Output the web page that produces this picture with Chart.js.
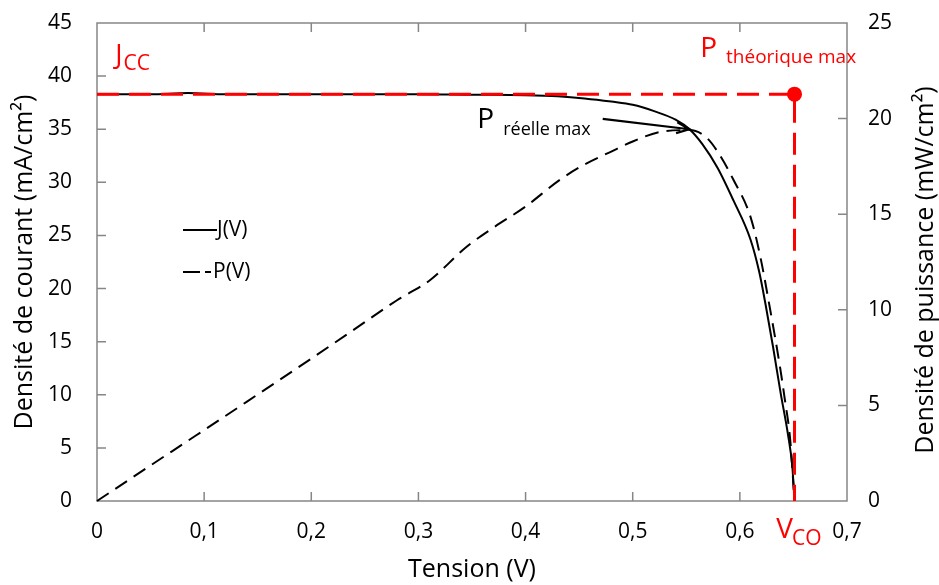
<!DOCTYPE html>
<html lang="fr">
<head>
<meta charset="UTF-8">
<title>J(V) et P(V)</title>
<script src="https://cdn.jsdelivr.net/npm/chart.js"></script>
<style>
  html, body { margin: 0; padding: 0; background: #fff; }
  #wrap { width: 939px; height: 585px; }
</style>
</head>
<body>
<div id="wrap"><canvas id="chart" width="939" height="585"></canvas></div>
<script>
// courbe J(V) (mA/cm2)
const voltsJ = [0, 0.05, 0.085, 0.12, 0.2, 0.3, 0.35, 0.4, 0.43, 0.455, 0.48, 0.5, 0.52, 0.54, 0.553, 0.565, 0.579, 0.594, 0.61, 0.618, 0.624, 0.631, 0.638, 0.645, 0.649, 0.651];
const currentJ = [38.3, 38.3, 38.4, 38.3, 38.3, 38.3, 38.25, 38.2, 38.1, 37.9, 37.6, 37.3, 36.7, 35.9, 35.0, 33.6, 31.4, 28.3, 24.6, 21.6, 18.5, 14.5, 10.2, 6.2, 3.2, 0];

// courbe P(V) (mW/cm2)
const voltsP = [0, 0.047, 0.093, 0.14, 0.187, 0.233, 0.28, 0.311, 0.345, 0.37, 0.4, 0.432, 0.455, 0.479, 0.5, 0.525, 0.553, 0.569, 0.58, 0.594, 0.61, 0.619, 0.628, 0.6375, 0.642, 0.647, 0.651];
const powerP = [0, 1.75, 3.45, 5.2, 6.96, 8.7, 10.5, 11.56, 13.3, 14.3, 15.4, 16.8, 17.6, 18.25, 18.8, 19.3, 19.4, 19.0, 18.2, 16.8, 14.85, 12.8, 10.1, 7.0, 5.3, 3.2, 0];

// points remarquables
const jcc = 38.3;
const vco = 0.651;
const pmaxReel = [0.553, 35.0];
const arrowFrom = [0.472, 35.97];

const FONT = "'Open Sans', sans-serif";

function pts(xs, ys) {
    return xs.map((x, i) => ({ x: x, y: ys[i] }));
}

function fmt(v) {
    const n = Number(v.toFixed(1));
    return n.toString().replace(".", ",");
}

// grille invisible : seulement pour décaler les étiquettes
function hiddenGrid(len) {
    return { display: true, drawOnChartArea: false, drawTicks: true, tickLength: len, color: "rgba(0,0,0,0)" };
}

const framePlugin = {
    id: "frame",
    beforeDatasetsDraw(chart) {
        const { ctx, chartArea: a, scales } = chart;
        ctx.save();
        ctx.strokeStyle = "#868686";
        ctx.lineWidth = 1.5;
        ctx.strokeRect(a.left, a.top, a.right - a.left, a.bottom - a.top);
        const tl = 9;
        ctx.beginPath();
        scales.x.ticks.forEach(t => {
            const px = scales.x.getPixelForValue(t.value);
            if (px <= a.left + 1 || px >= a.right - 1) return;
            ctx.moveTo(px, a.bottom); ctx.lineTo(px, a.bottom - tl);
            ctx.moveTo(px, a.top); ctx.lineTo(px, a.top + tl);
        });
        scales.y.ticks.forEach(t => {
            const py = scales.y.getPixelForValue(t.value);
            if (py <= a.top + 1 || py >= a.bottom - 1) return;
            ctx.moveTo(a.left, py); ctx.lineTo(a.left + tl, py);
        });
        scales.y1.ticks.forEach(t => {
            const py = scales.y1.getPixelForValue(t.value);
            if (py <= a.top + 1 || py >= a.bottom - 1) return;
            ctx.moveTo(a.right, py); ctx.lineTo(a.right - tl, py);
        });
        ctx.stroke();
        ctx.restore();
    },
    afterDraw(chart) {
        const { ctx, scales } = chart;
        const x = scales.x, y = scales.y;
        ctx.save();
        ctx.textBaseline = "alphabetic";
        ctx.textAlign = "left";

        // titre axe droit (lu de bas en haut)
        ctx.save();
        ctx.translate(926, (chart.chartArea.top + chart.chartArea.bottom) / 2 + 8);
        ctx.rotate(-Math.PI / 2);
        ctx.textAlign = "center";
        ctx.textBaseline = "middle";
        ctx.fillStyle = "#000";
        ctx.font = "25px " + FONT;
        ctx.fillText("Densité de puissance (mW/cm²)", 0, 0);
        ctx.restore();

        // J_CC
        ctx.fillStyle = "#ff0000";
        let px = x.getPixelForValue(0.017), py = y.getPixelForValue(41.1);
        ctx.font = "27px " + FONT;
        ctx.fillText("J", px, py);
        let w = ctx.measureText("J").width;
        ctx.font = "21px " + FONT;
        ctx.fillText("CC", px + w + 1, py + 6);

        // P théorique max
        px = x.getPixelForValue(0.563); py = y.getPixelForValue(41.8);
        ctx.font = "28px " + FONT;
        ctx.fillText("P", px, py);
        w = ctx.measureText("P").width;
        ctx.font = "19px " + FONT;
        ctx.fillText("théorique max", px + w + 9, py + 6);

        // V_CO
        px = x.getPixelForValue(0.634); py = 538;
        ctx.font = "28px " + FONT;
        ctx.fillText("V", px, py);
        w = ctx.measureText("V").width;
        ctx.font = "21px " + FONT;
        ctx.fillText("CO", px + w - 1, py + 7);

        // P réelle max
        ctx.fillStyle = "#000";
        px = x.getPixelForValue(0.355); py = y.getPixelForValue(35.1);
        ctx.font = "28px " + FONT;
        ctx.fillText("P", px, py);
        w = ctx.measureText("P").width;
        ctx.font = "18px " + FONT;
        ctx.fillText("réelle max", px + w + 9, py + 7);

        // flèche
        const x0 = x.getPixelForValue(arrowFrom[0]), y0 = y.getPixelForValue(arrowFrom[1]);
        const x1 = x.getPixelForValue(pmaxReel[0]), y1 = y.getPixelForValue(pmaxReel[1]);
        const ang = Math.atan2(y1 - y0, x1 - x0);
        ctx.strokeStyle = "#000";
        ctx.lineWidth = 2.2;
        ctx.beginPath();
        ctx.moveTo(x0, y0); ctx.lineTo(x1, y1);
        ctx.moveTo(x1 - 14 * Math.cos(ang - 0.4), y1 - 14 * Math.sin(ang - 0.4));
        ctx.lineTo(x1, y1);
        ctx.lineTo(x1 - 14 * Math.cos(ang + 0.4), y1 - 14 * Math.sin(ang + 0.4));
        ctx.stroke();

        // légende
        ctx.font = "21px " + FONT;
        ctx.fillStyle = "#000";
        ctx.textBaseline = "middle";
        ctx.lineWidth = 2;
        ctx.beginPath();
        ctx.moveTo(183, 230); ctx.lineTo(217, 230);
        ctx.stroke();
        ctx.fillText("J(V)", 217, 230);
        ctx.beginPath();
        ctx.moveTo(183, 272); ctx.lineTo(200, 272);
        ctx.moveTo(205, 272); ctx.lineTo(211, 272);
        ctx.stroke();
        ctx.fillText("P(V)", 213, 272);
        ctx.restore();
    }
};

new Chart(document.getElementById("chart"), {
    type: "line",
    data: {
        datasets: [
            {
                label: "Pth",
                data: [{ x: vco, y: jcc }],
                yAxisID: "y",
                showLine: false,
                pointRadius: 7.5,
                pointBackgroundColor: "#ff0000",
                pointBorderWidth: 0,
                order: 0
            },
            {
                label: "Jcc-Vco",
                data: [{ x: 0, y: jcc }, { x: vco, y: jcc }, { x: vco, y: 0 }],
                yAxisID: "y",
                borderColor: "#ff0000",
                borderWidth: 3,
                borderDash: [22, 10],
                pointRadius: 0,
                tension: 0,
                order: 1
            },
            {
                label: "J(V)",
                data: pts(voltsJ, currentJ),
                yAxisID: "y",
                borderColor: "#000",
                borderWidth: 2,
                pointRadius: 0,
                cubicInterpolationMode: "monotone",
                order: 2
            },
            {
                label: "P(V)",
                data: pts(voltsP, powerP),
                yAxisID: "y1",
                borderColor: "#000",
                borderWidth: 2,
                borderDash: [14, 8],
                pointRadius: 0,
                cubicInterpolationMode: "monotone",
                order: 3
            }
        ]
    },
    options: {
        responsive: false,
        animation: false,
        clip: false,
        layout: { padding: { top: 23 } },
        plugins: { legend: { display: false }, tooltip: { enabled: false } },
        scales: {
            x: {
                type: "linear",
                min: 0, max: 0.7,
                grid: hiddenGrid(18),
                border: { display: false },
                ticks: { stepSize: 0.1, padding: 0, color: "#000", font: { size: 21, family: FONT }, callback: v => fmt(v) },
                title: { display: true, text: "Tension (V)", color: "#000", font: { size: 25, family: FONT }, padding: 0 },
                afterFit: s => { s.height = 84; }
            },
            y: {
                position: "left",
                min: 0, max: 45,
                grid: hiddenGrid(25),
                border: { display: false },
                ticks: { stepSize: 5, padding: 0, color: "#000", font: { size: 21, family: FONT } },
                title: { display: true, text: "Densité de courant (mA/cm²)", color: "#000", font: { size: 25, family: FONT }, padding: 10 },
                afterFit: s => { s.width = 97; }
            },
            y1: {
                position: "right",
                min: 0, max: 25,
                grid: hiddenGrid(21),
                border: { display: false },
                ticks: { stepSize: 5, padding: 0, color: "#000", font: { size: 21, family: FONT } },
                title: { display: false },
                afterFit: s => { s.width = 92; }
            }
        }
    },
    plugins: [framePlugin]
});
</script>
</body>
</html>
